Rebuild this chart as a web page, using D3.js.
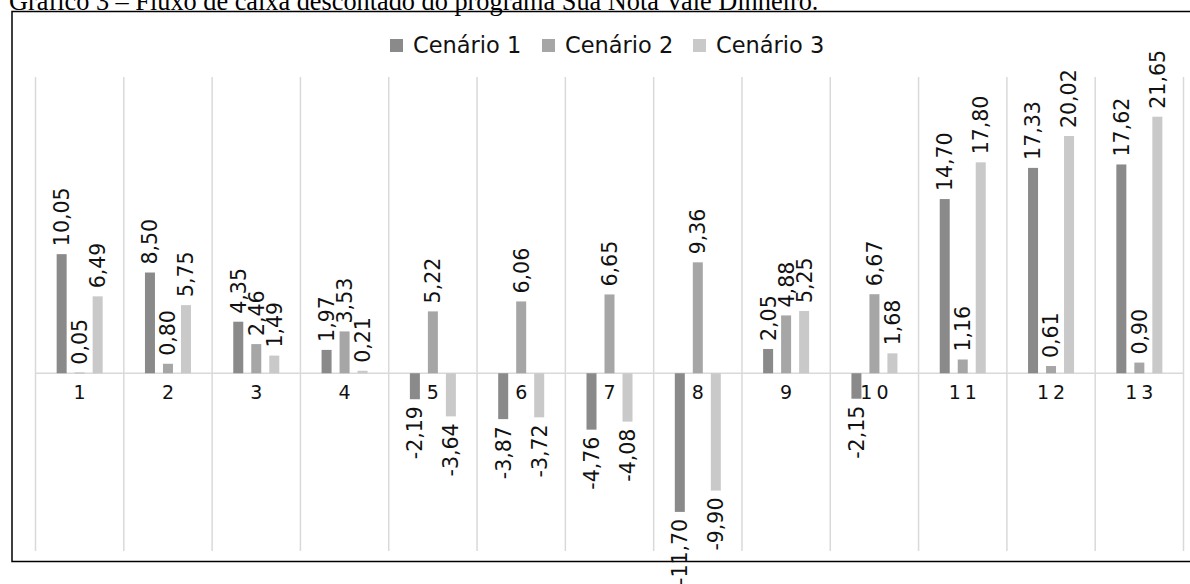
<!DOCTYPE html>
<html>
<head>
<meta charset="utf-8">
<script src="https://cdn.jsdelivr.net/npm/d3@7/dist/d3.min.js"></script>
<style>
  html, body { margin: 0; padding: 0; background: #fff; }
  svg { display: block; }
</style>
</head>
<body>
<svg id="chart" width="1190" height="584"></svg>
<script>
// Discounted cash flow per period for the three scenarios
const categories = ["1", "2", "3", "4", "5", "6", "7", "8", "9", "10", "11", "12", "13"];
const seriesNames = ["Cenário 1", "Cenário 2", "Cenário 3"];
const cenario1 = [10.05, 8.50, 4.35, 1.97, -2.19, -3.87, -4.76, -11.70, 2.05, -2.15, 14.70, 17.33, 17.62];
const cenario2 = [0.05, 0.80, 2.46, 3.53, 5.22, 6.06, 6.65, 9.36, 4.88, 6.67, 1.16, 0.61, 0.90];
const cenario3 = [6.49, 5.75, 1.49, 0.21, -3.64, -3.72, -4.08, -9.90, 5.25, 1.68, 17.80, 20.02, 21.65];
const yDomain = [-15, 25];
const titleText = "Gráfico 3 – Fluxo de caixa descontado do programa Sua Nota Vale Dinheiro.";

const seriesValues = [cenario1, cenario2, cenario3];
const colors = d3.scaleOrdinal().domain(seriesNames).range(["#8a8a8a", "#a6a6a6", "#c9c9c9"]);

const svg = d3.select("#chart");
const sans = "'DejaVu Sans', sans-serif";
// Two decimals, comma as decimal separator, plain hyphen for negatives
const fmt = v => v.toFixed(2).replace(".", ",");

// Title (partly above the visible area)
svg.append("text")
  .attr("x", 9).attr("y", 9.5)
  .attr("font-family", "'Liberation Serif', serif")
  .attr("font-size", 26.3)
  .attr("fill", "#000")
  .text(titleText);

// Outer frame
svg.append("rect")
  .attr("x", 12).attr("y", 11.5)
  .attr("width", 1190).attr("height", 550)
  .attr("fill", "none").attr("stroke", "#000").attr("stroke-width", 1.5);

const x = d3.scaleBand().domain(categories).range([35.5, 1183.5]).padding(0);
const xs = d3.scaleBand().domain(seriesNames).range([-23, 23]).paddingInner(8 / 18);
const y = d3.scaleLinear().domain(yDomain).range([551, 77]);

// Vertical gridlines at category boundaries
const bounds = categories.map(c => x(c)).concat([x.range()[1]]);
svg.append("g").selectAll("line").data(bounds).join("line")
  .attr("x1", d => d).attr("x2", d => d)
  .attr("y1", y(yDomain[0])).attr("y2", y(yDomain[1]))
  .attr("stroke", "#d9d9d9").attr("stroke-width", 1.5);

// Zero line
svg.append("line")
  .attr("x1", x.range()[0]).attr("x2", x.range()[1])
  .attr("y1", y(0)).attr("y2", y(0))
  .attr("stroke", "#d9d9d9").attr("stroke-width", 1.5);

// Bars
const rows = [];
seriesNames.forEach((s, si) => {
  categories.forEach((c, ci) => rows.push({ s, c, v: seriesValues[si][ci] }));
});
const cx = d => x(d.c) + x.bandwidth() / 2 + xs(d.s);

svg.append("g").selectAll("rect").data(rows).join("rect")
  .attr("x", d => cx(d))
  .attr("width", xs.bandwidth())
  .attr("y", d => y(Math.max(0, d.v)))
  .attr("height", d => Math.abs(y(d.v) - y(0)))
  .attr("fill", d => colors(d.s));

// Category labels just under the zero line
svg.append("g").selectAll("text").data(categories).join("text")
  .attr("x", c => x(c) + x.bandwidth() / 2 + 2)
  .attr("y", y(0) + 26)
  .attr("text-anchor", "middle")
  .attr("font-family", sans).attr("font-size", 19)
  .attr("letter-spacing", 4)
  .attr("fill", "#111")
  .text(c => c);

// Rotated value labels
svg.append("g").selectAll("text").data(rows).join("text")
  .attr("transform", d => {
    const tx = cx(d) + xs.bandwidth() / 2;
    const ty = d.v >= 0 ? y(d.v) - 8 : y(d.v) + 7;
    return `translate(${tx},${ty}) rotate(-90)`;
  })
  .attr("dy", "0.36em")
  .attr("text-anchor", d => d.v >= 0 ? "start" : "end")
  .attr("font-family", sans).attr("font-size", 20.5)
  .attr("fill", "#111")
  .text(d => fmt(d.v));

// Legend
const legendX = [390, 542, 693];
const lg = svg.append("g").selectAll("g").data(seriesNames).join("g")
  .attr("transform", (d, i) => `translate(${legendX[i]},39)`);
lg.append("rect").attr("width", 13).attr("height", 13).attr("fill", d => colors(d));
lg.append("text").attr("x", 23).attr("y", 14)
  .attr("font-family", sans).attr("font-size", 22.5)
  .attr("fill", "#111")
  .text(d => d);
</script>
</body>
</html>
